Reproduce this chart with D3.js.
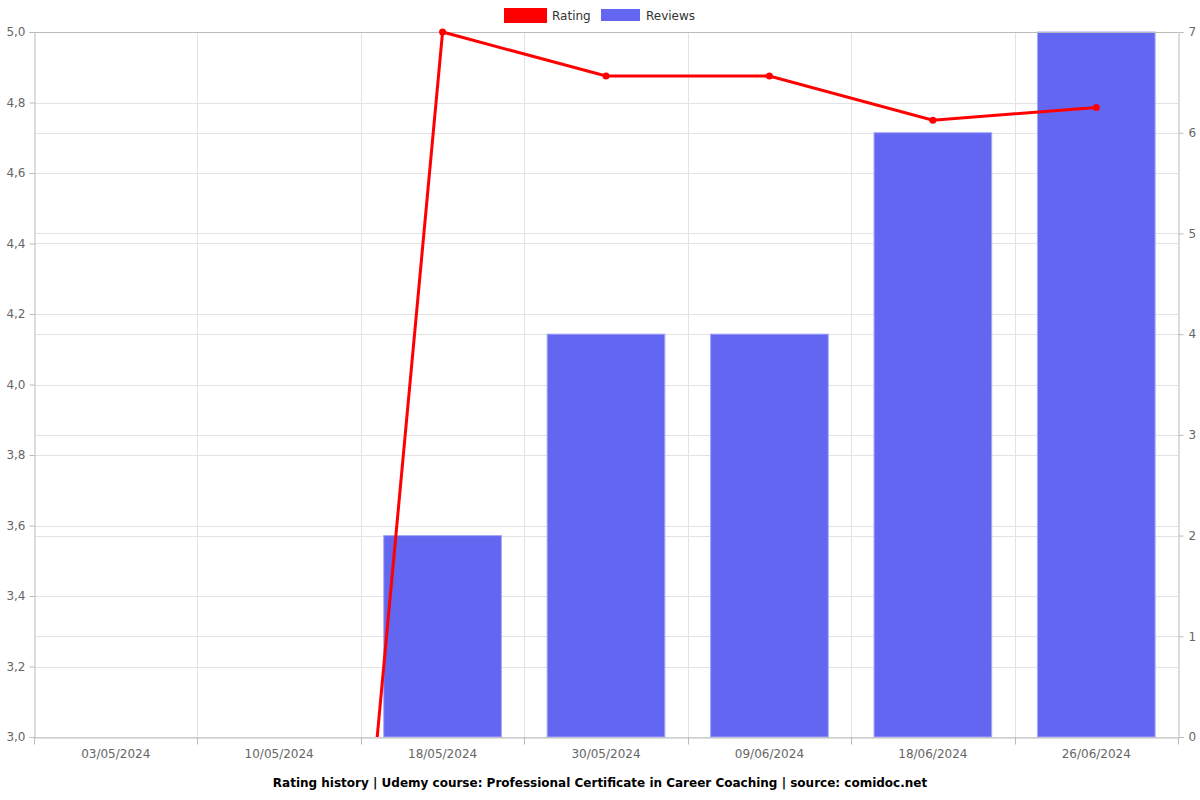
<!DOCTYPE html>
<html><head><meta charset="utf-8">
<script src="https://cdn.jsdelivr.net/npm/d3@7"></script>
<style>body{margin:0;background:#fff;font-family:"DejaVu Sans",sans-serif;}</style>
</head><body><svg id="c" width="1200" height="800"></svg>
<script>
const categories = ["03/05/2024","10/05/2024","18/05/2024","30/05/2024","09/06/2024","18/06/2024","26/06/2024"];
const ratings = [0, 0, 5.0, 4.875, 4.875, 4.75, 4.786];
const reviews = [0, 0, 2, 4, 4, 6, 7];
const leftTicks = [3.0,3.2,3.4,3.6,3.8,4.0,4.2,4.4,4.6,4.8,5.0];
const rightTicks = [0,1,2,3,4,5,6,7];
const title = "Rating history | Udemy course: Professional Certificate in Career Coaching | source: comidoc.net";

const svg = d3.select("#c");
const L = 34, R = 1178, T = 32, B = 737;
const x = d3.scaleBand().domain(categories).range([L, R]).paddingInner(0.28).paddingOuter(0.14);
const xb = d3.scaleBand().domain(categories).range([L, R]);
const yL = d3.scaleLinear().domain([3, 5]).range([B, T]);
const yR = d3.scaleLinear().domain([0, 7]).range([B, T]);
const grid = "#e3e3e3", axisC = "#bbbbbb", txt = "#666";

// gridlines
const g = svg.append("g");
g.selectAll(".hl").data(leftTicks).join("line").attr("x1", L).attr("x2", R)
  .attr("y1", d => Math.round(yL(d)) + 0.5).attr("y2", d => Math.round(yL(d)) + 0.5).attr("stroke", grid);
g.selectAll(".hr").data(rightTicks).join("line").attr("x1", L).attr("x2", R)
  .attr("y1", d => Math.round(yR(d)) + 0.5).attr("y2", d => Math.round(yR(d)) + 0.5).attr("stroke", grid);
g.selectAll(".v").data(categories.slice(1)).join("line")
  .attr("x1", d => Math.round(xb(d)) + 0.5).attr("x2", d => Math.round(xb(d)) + 0.5)
  .attr("y1", T).attr("y2", B + 7).attr("stroke", grid);

// bars
svg.append("g").selectAll("rect").data(categories.map((c, i) => ({c, v: reviews[i]})).filter(d => d.v > 0))
  .join("rect").attr("x", d => x(d.c)).attr("width", x.bandwidth())
  .attr("y", d => yR(d.v)).attr("height", d => yR(0) - yR(d.v))
  .attr("fill", "#6366f1").attr("stroke", "#a5a7f6").attr("stroke-width", 1);

// axes
const ax = svg.append("g");
const left = d3.axisLeft(yL).tickValues(leftTicks).tickFormat(d => d3.format(".1f")(d).replace(".", ",")).tickSize(5).tickPadding(4);
const gl = ax.append("g").attr("transform", `translate(${L + 0.5},0)`).call(left);
const right = d3.axisRight(yR).tickValues(rightTicks).tickFormat(d3.format("d")).tickSize(5).tickPadding(5);
const gr = ax.append("g").attr("transform", `translate(${R + 0.5},0)`).call(right);
const bottom = d3.axisBottom(xb).tickSize(0).tickPadding(12);
const bg = ax.append("g").attr("transform", `translate(0,${B + 0.5})`).call(bottom);
[gl, gr, bg].forEach(s => s.attr("font-size", 12).attr("font-family", "DejaVu Sans, sans-serif"));
bg.selectAll(".bt").data(categories).join("line").attr("class", "bt")
  .attr("x1", d => Math.round(xb(d)) + 0.5).attr("x2", d => Math.round(xb(d)) + 0.5).attr("y1", 0).attr("y2", 7).attr("stroke", axisC);
bg.append("line").attr("x1", R + 0.5).attr("x2", R + 0.5).attr("y1", 0).attr("y2", 7).attr("stroke", axisC);
ax.selectAll(".domain").attr("stroke", axisC);
ax.selectAll(".tick line").attr("stroke", axisC);
ax.selectAll(".tick text").attr("fill", txt).style("font-size", "12px");
svg.append("line").attr("x1", L).attr("x2", R).attr("y1", T + 0.5).attr("y2", T + 0.5).attr("stroke", axisC);

// line
svg.append("clipPath").attr("id", "clip").append("rect").attr("x", L).attr("y", T - 5).attr("width", R - L).attr("height", B - T + 5);
const pts = categories.map((c, i) => [xb(c) + xb.bandwidth() / 2, yL(ratings[i])]);
const lg = svg.append("g").attr("clip-path", "url(#clip)");
lg.append("path").attr("d", d3.line()(pts)).attr("fill", "none").attr("stroke", "#ff0000").attr("stroke-width", 3);
lg.selectAll("circle").data(pts).join("circle").attr("cx", d => d[0]).attr("cy", d => d[1]).attr("r", 3.5).attr("fill", "#ff0000");

// legend
const leg = svg.append("g").attr("font-size", 12).attr("fill", "#333");
leg.append("rect").attr("x", 504).attr("y", 8).attr("width", 43).attr("height", 15).attr("fill", "#ff0000");
leg.append("text").attr("x", 552).attr("y", 20).text("Rating");
leg.append("rect").attr("x", 601).attr("y", 9).attr("width", 39).attr("height", 12).attr("fill", "#6366f1");
leg.append("text").attr("x", 646).attr("y", 20).text("Reviews");

svg.append("text").attr("x", 600).attr("y", 787).attr("text-anchor", "middle")
  .attr("font-size", 12).attr("font-weight", "bold").attr("fill", "#000").text(title);
</script></body></html>
